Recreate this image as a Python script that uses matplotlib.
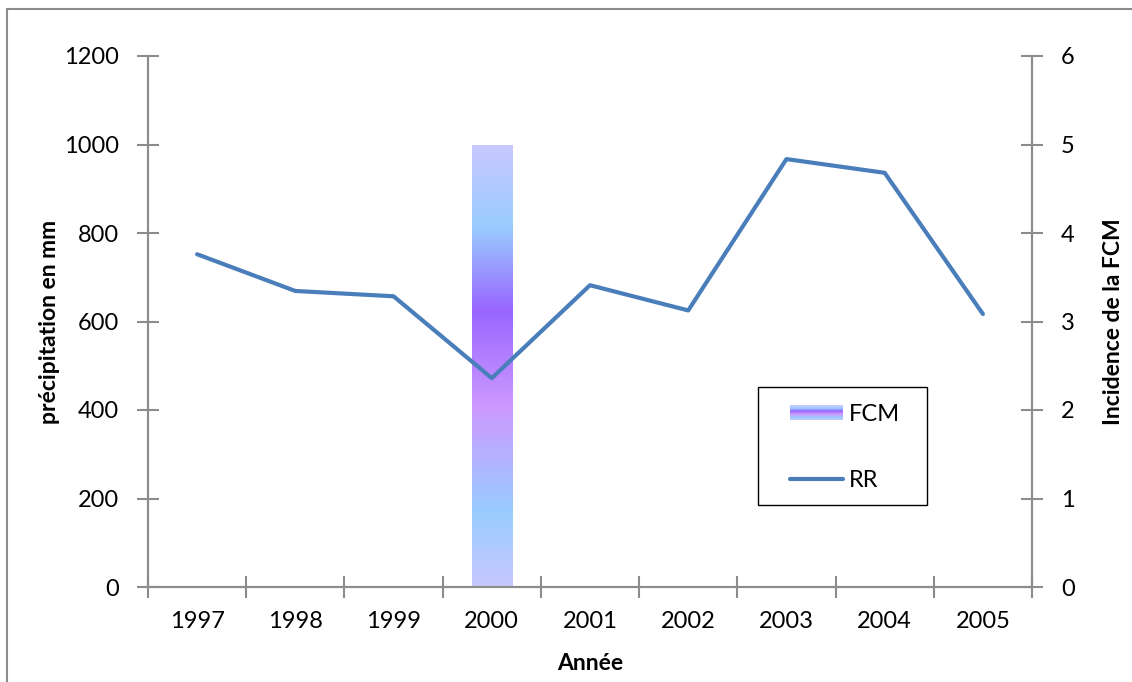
import matplotlib as mpl
import matplotlib.pyplot as plt
import numpy as np
from matplotlib.colors import LinearSegmentedColormap
from matplotlib.legend_handler import HandlerBase
from matplotlib.patches import Rectangle

years = ['1997', '1998', '1999', '2000', '2001', '2002', '2003', '2004', '2005']
rr = [752, 669, 657, 472, 682, 625, 967, 936, 617]
fcm_year = '2000'
fcm_value = 5

mpl.rcParams['font.family'] = ['Lato', 'DejaVu Sans']
mpl.rcParams['font.size'] = 17

grey = '#8c8c8c'
line_color = '#4a7ebb'
grad = LinearSegmentedColormap.from_list(
    'fcm', [(0.0, '#c8c8ff'), (0.167, '#99ccff'), (0.406, '#cc99ff'),
            (0.625, '#9966ff'), (0.813, '#99ccff'), (1.0, '#c8c8ff')])


class GradientHandler(HandlerBase):
    def create_artists(self, legend, orig_handle, xdescent, ydescent,
                       width, height, fontsize, trans):
        n = 30
        arts = []
        for i in range(n):
            arts.append(Rectangle((-xdescent, -ydescent + height * i / n), width, height / n,
                                  facecolor=grad(i / (n - 1)), edgecolor='none', transform=trans))
        return arts


W, H = 1132, 682
fig = plt.figure(figsize=(W / 100, H / 100), dpi=100)
# outer chart frame (left and top edges visible)
fig.patches.append(Rectangle((7 / W, -0.1), 1.2, 1 - 9 / H + 0.1, transform=fig.transFigure,
                             fill=False, edgecolor=grey, linewidth=1.5))
# legend frame
fig.patches.append(Rectangle((758 / W, 1 - 505 / H), (927 - 758) / W, (505 - 387) / H,
                             transform=fig.transFigure, fill=False, edgecolor='black',
                             linewidth=1.0, zorder=10))

ax = fig.add_axes([148 / W, 1 - 587 / H, (1032 - 148) / W, (587 - 56) / H])
ax2 = ax.twinx()

x = np.arange(len(years))
xb = years.index(fcm_year)
bw = 0.41
bars = ax2.bar([xb], [fcm_value], width=bw, color='none', edgecolor='none')
img = ax2.imshow(np.linspace(0, 1, 256).reshape(-1, 1), cmap=grad, aspect='auto', origin='lower',
                 extent=[xb - bw / 2, xb + bw / 2, 0, fcm_value], zorder=1)
img.set_clip_path(bars.patches[0])

ax.plot(x, rr, color=line_color, linewidth=3.0, solid_capstyle='round', zorder=3)

ax.set_zorder(ax2.get_zorder() + 1)
ax.patch.set_visible(False)

ax.set_xlim(-0.5, len(years) - 0.5)
ax2.set_xlim(-0.5, len(years) - 0.5)
ax.set_ylim(0, 1200)
ax2.set_ylim(0, 6)
ax.set_yticks(np.arange(0, 1201, 200))
ax2.set_yticks(np.arange(0, 7, 1))

ax.set_xticks(x)
ax.set_xticklabels(years)
ax.set_xticks(np.arange(-0.5, len(years)), minor=True)
ax.tick_params(axis='x', which='major', length=0, pad=17)
ax.tick_params(axis='x', which='minor', direction='inout', length=16, color=grey, width=1.5)
ax.tick_params(axis='y', direction='inout', length=16, color=grey, width=1.5, pad=13)
ax2.tick_params(axis='y', direction='inout', length=16, color=grey, width=1.5, pad=13)

for a in (ax, ax2):
    a.spines['top'].set_visible(False)
    for s in ('left', 'right', 'bottom'):
        a.spines[s].set_color(grey)
        a.spines[s].set_linewidth(1.5)

ax.set_ylabel('précipitation en mm', fontweight='bold', fontsize=16.5)
ax2.set_ylabel('Incidence de la FCM', fontweight='bold', fontsize=16.5)
ax.set_xlabel('Année', fontweight='bold', fontsize=16.5)
ax.yaxis.set_label_coords(-0.1, 0.5)
ax2.yaxis.set_label_coords(1.08, 0.5)
ax.xaxis.set_label_coords(0.5, -0.125)

proxy = Rectangle((0, 0), 1, 1)
line_proxy = plt.Line2D([], [], color=line_color, linewidth=3.0, solid_capstyle='round')
leg = ax.legend([proxy, line_proxy], ['FCM', 'RR'], handler_map={proxy: GradientHandler()},
                loc='upper left', bbox_to_anchor=(790 / W, 1 - 404 / H), bbox_transform=fig.transFigure,
                frameon=False, fontsize=17,
                handlelength=2.25, handleheight=0.6, handletextpad=0.25, labelspacing=1.9,
                borderpad=0, borderaxespad=0)
leg.set_zorder(5)

fig.savefig('out.png', dpi=100)
